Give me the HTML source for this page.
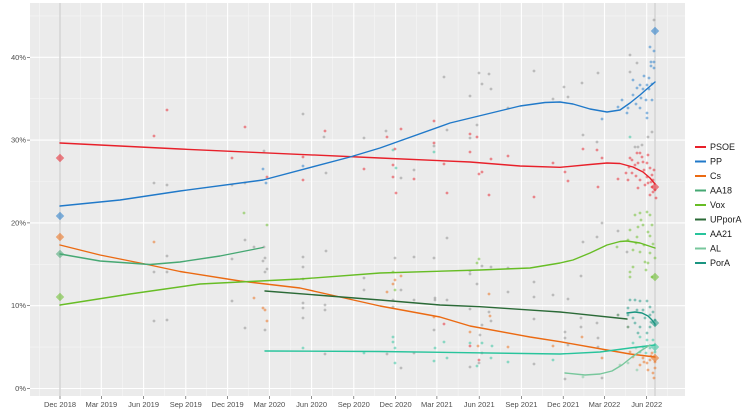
<!DOCTYPE html>
<html><head><meta charset="utf-8"><style>
html,body{margin:0;padding:0;background:#fff;}
svg{display:block;font-family:"Liberation Sans",sans-serif;}
.ax{font-size:7.5px;fill:#4d4d4d;}
.lg{font-size:9px;fill:#1a1a1a;}
.pts circle{opacity:.5}
.r{fill:#e8202a}.b{fill:#2079c9}.o{fill:#eb6a12}.g1{fill:#46a873}.v{fill:#67bd25}.u{fill:#2b6a37}.t{fill:#28c49c}.l{fill:#78c79c}.p{fill:#1a9581}.k{fill:#8c8c8c}
</style></head><body>
<svg width="750" height="417" viewBox="0 0 750 417">
<rect x="30" y="3" width="655" height="393" fill="#ebebeb"/>
<g stroke="#f6f6f6" stroke-width="0.6">
<line x1="30" x2="685" y1="347.1" y2="347.1"/><line x1="30" x2="685" y1="264.3" y2="264.3"/><line x1="30" x2="685" y1="181.5" y2="181.5"/><line x1="30" x2="685" y1="98.7" y2="98.7"/><line x1="30" x2="685" y1="15.9" y2="15.9"/>
<line y1="3" y2="396" x1="39.3" x2="39.3"/><line y1="3" y2="396" x1="80.7" x2="80.7"/><line y1="3" y2="396" x1="122.5" x2="122.5"/><line y1="3" y2="396" x1="164.7" x2="164.7"/><line y1="3" y2="396" x1="206.7" x2="206.7"/><line y1="3" y2="396" x1="248.5" x2="248.5"/><line y1="3" y2="396" x1="290.5" x2="290.5"/><line y1="3" y2="396" x1="332.7" x2="332.7"/><line y1="3" y2="396" x1="374.7" x2="374.7"/><line y1="3" y2="396" x1="416.3" x2="416.3"/><line y1="3" y2="396" x1="458.1" x2="458.1"/><line y1="3" y2="396" x1="500.3" x2="500.3"/><line y1="3" y2="396" x1="542.3" x2="542.3"/><line y1="3" y2="396" x1="583.9" x2="583.9"/><line y1="3" y2="396" x1="625.6" x2="625.6"/><line y1="3" y2="396" x1="667.6" x2="667.6"/>
</g>
<g stroke="#ffffff" stroke-width="1.1">
<line x1="30" x2="685" y1="388.5" y2="388.5"/><line x1="30" x2="685" y1="305.7" y2="305.7"/><line x1="30" x2="685" y1="222.9" y2="222.9"/><line x1="30" x2="685" y1="140.1" y2="140.1"/><line x1="30" x2="685" y1="57.3" y2="57.3"/>
<line y1="3" y2="396" x1="60" x2="60"/><line y1="3" y2="396" x1="101.3" x2="101.3"/><line y1="3" y2="396" x1="143.6" x2="143.6"/><line y1="3" y2="396" x1="185.8" x2="185.8"/><line y1="3" y2="396" x1="227.6" x2="227.6"/><line y1="3" y2="396" x1="269.4" x2="269.4"/><line y1="3" y2="396" x1="311.6" x2="311.6"/><line y1="3" y2="396" x1="353.8" x2="353.8"/><line y1="3" y2="396" x1="395.6" x2="395.6"/><line y1="3" y2="396" x1="436.9" x2="436.9"/><line y1="3" y2="396" x1="479.2" x2="479.2"/><line y1="3" y2="396" x1="521.4" x2="521.4"/><line y1="3" y2="396" x1="563.2" x2="563.2"/><line y1="3" y2="396" x1="604.5" x2="604.5"/><line y1="3" y2="396" x1="646.7" x2="646.7"/>
</g>
<g stroke="#d6d6d6" stroke-width="1.6">
<line x1="60" x2="60" y1="3" y2="396"/><line x1="655" x2="655" y1="3" y2="396"/>
</g>
<!-- axes ticks & labels -->
<g stroke="#444" stroke-width="0.6">
<line x1="27" x2="30" y1="388.5" y2="388.5"/><line x1="27" x2="30" y1="305.7" y2="305.7"/><line x1="27" x2="30" y1="222.9" y2="222.9"/><line x1="27" x2="30" y1="140.1" y2="140.1"/><line x1="27" x2="30" y1="57.3" y2="57.3"/>
<line y1="396" y2="399" x1="60" x2="60"/><line y1="396" y2="399" x1="101.3" x2="101.3"/><line y1="396" y2="399" x1="143.6" x2="143.6"/><line y1="396" y2="399" x1="185.8" x2="185.8"/><line y1="396" y2="399" x1="227.6" x2="227.6"/><line y1="396" y2="399" x1="269.4" x2="269.4"/><line y1="396" y2="399" x1="311.6" x2="311.6"/><line y1="396" y2="399" x1="353.8" x2="353.8"/><line y1="396" y2="399" x1="395.6" x2="395.6"/><line y1="396" y2="399" x1="436.9" x2="436.9"/><line y1="396" y2="399" x1="479.2" x2="479.2"/><line y1="396" y2="399" x1="521.4" x2="521.4"/><line y1="396" y2="399" x1="563.2" x2="563.2"/><line y1="396" y2="399" x1="604.5" x2="604.5"/><line y1="396" y2="399" x1="646.7" x2="646.7"/>
</g>
<g class="ax" text-anchor="end">
<text x="26" y="391">0%</text><text x="26" y="308.2">10%</text><text x="26" y="225.4">20%</text><text x="26" y="142.6">30%</text><text x="26" y="59.8">40%</text>
</g>
<g class="ax" text-anchor="middle">
<text x="60" y="407">Dec 2018</text><text x="101.3" y="407">Mar 2019</text><text x="143.6" y="407">Jun 2019</text><text x="185.8" y="407">Sep 2019</text><text x="227.6" y="407">Dec 2019</text><text x="269.4" y="407">Mar 2020</text><text x="311.6" y="407">Jun 2020</text><text x="353.8" y="407">Sep 2020</text><text x="395.6" y="407">Dec 2020</text><text x="436.9" y="407">Mar 2021</text><text x="479.2" y="407">Jun 2021</text><text x="521.4" y="407">Sep 2021</text><text x="563.2" y="407">Dec 2021</text><text x="604.5" y="407">Mar 2022</text><text x="646.7" y="407">Jun 2022</text>
</g>
<!-- points -->
<g class="pts">
<circle class="r" cx="154" cy="136" r="1.4"/><circle class="k" cx="154" cy="183" r="1.4"/><circle class="o" cx="154" cy="242" r="1.4"/><circle class="k" cx="154" cy="272" r="1.4"/><circle class="k" cx="154" cy="321" r="1.4"/>
<circle class="r" cx="167" cy="110" r="1.4"/><circle class="k" cx="167" cy="185" r="1.4"/><circle class="k" cx="167" cy="272" r="1.4"/><circle class="k" cx="167" cy="256" r="1.4"/><circle class="k" cx="167" cy="320" r="1.4"/>
<circle class="r" cx="232" cy="158" r="1.4"/><circle class="k" cx="232" cy="185" r="1.4"/><circle class="k" cx="232" cy="259" r="1.4"/><circle class="k" cx="232" cy="301" r="1.4"/>
<circle class="r" cx="245" cy="127" r="1.4"/><circle class="k" cx="245" cy="183" r="1.4"/><circle class="v" cx="244" cy="213" r="1.4"/><circle class="k" cx="245" cy="240" r="1.4"/><circle class="k" cx="245" cy="328" r="1.4"/>
<circle class="k" cx="254" cy="247" r="1.4"/><circle class="o" cx="254" cy="298" r="1.4"/>
<circle class="k" cx="264" cy="151" r="1.4"/><circle class="b" cx="263" cy="169" r="1.4"/><circle class="b" cx="266" cy="183" r="1.4"/><circle class="r" cx="267" cy="177" r="1.4"/><circle class="v" cx="267" cy="225" r="1.4"/><circle class="k" cx="264" cy="247" r="1.4"/><circle class="k" cx="265" cy="258" r="1.4"/><circle class="k" cx="263" cy="261" r="1.4"/><circle class="k" cx="267" cy="269" r="1.4"/><circle class="k" cx="265" cy="272" r="1.4"/><circle class="o" cx="263" cy="308" r="1.4"/><circle class="o" cx="265" cy="310" r="1.4"/><circle class="o" cx="267" cy="321" r="1.4"/><circle class="k" cx="265" cy="330" r="1.4"/>
<circle class="k" cx="303" cy="114" r="1.4"/><circle class="r" cx="303" cy="157" r="1.4"/><circle class="b" cx="303" cy="166" r="1.4"/><circle class="r" cx="303" cy="180" r="1.4"/><circle class="k" cx="303" cy="257" r="1.4"/><circle class="k" cx="303" cy="267" r="1.4"/><circle class="k" cx="303" cy="279" r="1.4"/><circle class="k" cx="303" cy="303" r="1.4"/><circle class="k" cx="303" cy="308" r="1.4"/><circle class="k" cx="303" cy="318" r="1.4"/><circle class="t" cx="303" cy="348" r="1.4"/>
<circle class="r" cx="325" cy="131" r="1.4"/><circle class="k" cx="324" cy="137" r="1.4"/><circle class="k" cx="326" cy="173" r="1.4"/><circle class="k" cx="326" cy="251" r="1.4"/><circle class="k" cx="325" cy="305" r="1.4"/><circle class="k" cx="325" cy="310" r="1.4"/><circle class="k" cx="325" cy="354" r="1.4"/>
<circle class="k" cx="364" cy="138" r="1.4"/><circle class="r" cx="364" cy="169" r="1.4"/><circle class="k" cx="364" cy="278" r="1.4"/><circle class="k" cx="364" cy="290" r="1.4"/><circle class="t" cx="364" cy="353" r="1.4"/>
<circle class="k" cx="386" cy="131" r="1.4"/><circle class="r" cx="387" cy="137" r="1.4"/><circle class="r" cx="401" cy="129" r="1.4"/><circle class="t" cx="393" cy="150" r="1.4"/><circle class="r" cx="395" cy="149" r="1.4"/><circle class="r" cx="393" cy="165" r="1.4"/><circle class="t" cx="396" cy="168" r="1.4"/><circle class="r" cx="393" cy="177" r="1.4"/><circle class="r" cx="396" cy="193" r="1.4"/><circle class="k" cx="401" cy="178" r="1.4"/><circle class="k" cx="414" cy="170" r="1.4"/><circle class="r" cx="414" cy="179" r="1.4"/>
<circle class="k" cx="395" cy="258" r="1.4"/><circle class="v" cx="393" cy="272" r="1.4"/><circle class="o" cx="395" cy="280" r="1.4"/><circle class="o" cx="393" cy="284" r="1.4"/><circle class="v" cx="395" cy="290" r="1.4"/><circle class="k" cx="401" cy="290" r="1.4"/><circle class="o" cx="387" cy="292" r="1.4"/><circle class="o" cx="401" cy="276" r="1.4"/><circle class="k" cx="393" cy="300" r="1.4"/><circle class="k" cx="393" cy="307" r="1.4"/><circle class="t" cx="393" cy="337" r="1.4"/><circle class="t" cx="393" cy="342" r="1.4"/><circle class="t" cx="395" cy="348" r="1.4"/><circle class="k" cx="387" cy="354" r="1.4"/><circle class="t" cx="395" cy="363" r="1.4"/><circle class="k" cx="401" cy="368" r="1.4"/><circle class="k" cx="414" cy="257" r="1.4"/><circle class="k" cx="414" cy="300" r="1.4"/><circle class="k" cx="414" cy="353" r="1.4"/>
<circle class="r" cx="434" cy="121" r="1.4"/><circle class="r" cx="434" cy="143" r="1.4"/><circle class="k" cx="434" cy="146" r="1.4"/><circle class="t" cx="434" cy="152" r="1.4"/><circle class="k" cx="444" cy="77" r="1.4"/><circle class="k" cx="447" cy="130" r="1.4"/><circle class="r" cx="444" cy="164" r="1.4"/><circle class="r" cx="447" cy="193" r="1.4"/><circle class="k" cx="434" cy="258" r="1.4"/><circle class="k" cx="435" cy="298" r="1.4"/><circle class="k" cx="435" cy="300" r="1.4"/><circle class="o" cx="434" cy="317" r="1.4"/><circle class="k" cx="434" cy="330" r="1.4"/><circle class="t" cx="435" cy="348" r="1.4"/><circle class="t" cx="434" cy="361" r="1.4"/><circle class="k" cx="447" cy="300" r="1.4"/><circle class="k" cx="447" cy="238" r="1.4"/><circle class="r" cx="444" cy="324" r="1.4"/><circle class="t" cx="444" cy="342" r="1.4"/><circle class="t" cx="447" cy="358" r="1.4"/>
<circle class="k" cx="470" cy="96" r="1.4"/><circle class="k" cx="479" cy="73" r="1.4"/><circle class="k" cx="482" cy="84" r="1.4"/><circle class="k" cx="489" cy="74" r="1.4"/><circle class="k" cx="491" cy="89" r="1.4"/><circle class="k" cx="477" cy="125" r="1.4"/><circle class="r" cx="470" cy="134" r="1.4"/><circle class="k" cx="470" cy="138" r="1.4"/><circle class="r" cx="477" cy="137" r="1.4"/><circle class="r" cx="470" cy="152" r="1.4"/><circle class="r" cx="491" cy="159" r="1.4"/><circle class="r" cx="482" cy="172" r="1.4"/><circle class="r" cx="479" cy="174" r="1.4"/><circle class="r" cx="489" cy="195" r="1.4"/>
<circle class="k" cx="470" cy="271" r="1.4"/><circle class="k" cx="470" cy="274" r="1.4"/><circle class="v" cx="479" cy="259" r="1.4"/><circle class="v" cx="477" cy="263" r="1.4"/><circle class="k" cx="482" cy="266" r="1.4"/><circle class="k" cx="491" cy="267" r="1.4"/><circle class="k" cx="477" cy="284" r="1.4"/><circle class="o" cx="489" cy="294" r="1.4"/><circle class="k" cx="470" cy="309" r="1.4"/><circle class="k" cx="489" cy="312" r="1.4"/><circle class="o" cx="490" cy="316" r="1.4"/><circle class="k" cx="491" cy="321" r="1.4"/><circle class="k" cx="482" cy="325" r="1.4"/><circle class="o" cx="470" cy="332" r="1.4"/><circle class="k" cx="480" cy="335" r="1.4"/><circle class="t" cx="470" cy="343" r="1.4"/><circle class="r" cx="470" cy="346" r="1.4"/><circle class="o" cx="478" cy="346" r="1.4"/><circle class="t" cx="482" cy="343" r="1.4"/><circle class="t" cx="492" cy="346" r="1.4"/><circle class="k" cx="482" cy="353" r="1.4"/><circle class="t" cx="491" cy="358" r="1.4"/><circle class="r" cx="479" cy="360" r="1.4"/><circle class="k" cx="479" cy="363" r="1.4"/><circle class="k" cx="470" cy="367" r="1.4"/><circle class="t" cx="477" cy="366" r="1.4"/>
<circle class="k" cx="508" cy="108" r="1.4"/><circle class="r" cx="508" cy="156" r="1.4"/><circle class="k" cx="508" cy="292" r="1.4"/><circle class="k" cx="508" cy="268" r="1.4"/><circle class="o" cx="508" cy="347" r="1.4"/><circle class="t" cx="508" cy="362" r="1.4"/>
<circle class="k" cx="534" cy="71" r="1.4"/><circle class="r" cx="534" cy="197" r="1.4"/><circle class="k" cx="534" cy="282" r="1.4"/><circle class="k" cx="534" cy="297" r="1.4"/><circle class="k" cx="534" cy="319" r="1.4"/><circle class="k" cx="534" cy="364" r="1.4"/>
<circle class="k" cx="553" cy="99" r="1.4"/><circle class="r" cx="553" cy="163" r="1.4"/><circle class="k" cx="553" cy="295" r="1.4"/><circle class="o" cx="553" cy="346" r="1.4"/><circle class="t" cx="553" cy="360" r="1.4"/>
<circle class="k" cx="564" cy="87" r="1.4"/><circle class="k" cx="568" cy="97" r="1.4"/><circle class="k" cx="582" cy="83" r="1.4"/><circle class="k" cx="598" cy="73" r="1.4"/><circle class="b" cx="602" cy="119" r="1.4"/><circle class="k" cx="583" cy="135" r="1.4"/><circle class="k" cx="597" cy="142" r="1.4"/><circle class="r" cx="583" cy="149" r="1.4"/><circle class="r" cx="597" cy="150" r="1.4"/><circle class="r" cx="602" cy="158" r="1.4"/><circle class="r" cx="565" cy="172" r="1.4"/><circle class="r" cx="568" cy="181" r="1.4"/><circle class="r" cx="598" cy="187" r="1.4"/><circle class="r" cx="618" cy="179" r="1.4"/><circle class="b" cx="618" cy="107" r="1.4"/>
<circle class="k" cx="602" cy="223" r="1.4"/><circle class="k" cx="618" cy="231" r="1.4"/><circle class="k" cx="597" cy="237" r="1.4"/><circle class="k" cx="583" cy="242" r="1.4"/><circle class="v" cx="617" cy="247" r="1.4"/><circle class="k" cx="627" cy="252" r="1.4"/><circle class="k" cx="581" cy="276" r="1.4"/><circle class="k" cx="568" cy="299" r="1.4"/><circle class="k" cx="581" cy="318" r="1.4"/><circle class="k" cx="597" cy="323" r="1.4"/><circle class="k" cx="581" cy="327" r="1.4"/><circle class="o" cx="582" cy="337" r="1.4"/><circle class="k" cx="565" cy="332" r="1.4"/><circle class="k" cx="565" cy="338" r="1.4"/><circle class="k" cx="598" cy="338" r="1.4"/><circle class="k" cx="568" cy="345" r="1.4"/><circle class="k" cx="598" cy="347" r="1.4"/><circle class="k" cx="565" cy="379" r="1.4"/><circle class="l" cx="583" cy="377" r="1.4"/><circle class="k" cx="602" cy="378" r="1.4"/><circle class="o" cx="602" cy="358" r="1.4"/><circle class="l" cx="620" cy="365" r="1.4"/><circle class="u" cx="618" cy="315" r="1.4"/>
<!-- right cluster PP -->
<circle class="k" cx="630" cy="55" r="1.4"/><circle class="k" cx="637" cy="63" r="1.4"/><circle class="k" cx="630" cy="72" r="1.4"/><circle class="b" cx="628" cy="108" r="1.4"/><circle class="b" cx="627" cy="113" r="1.4"/><circle class="b" cx="633" cy="80" r="1.4"/><circle class="b" cx="637" cy="88" r="1.4"/><circle class="b" cx="640" cy="85" r="1.4"/><circle class="b" cx="640" cy="108" r="1.4"/><circle class="b" cx="643" cy="89" r="1.4"/><circle class="b" cx="647" cy="85" r="1.4"/><circle class="b" cx="650" cy="47" r="1.4"/><circle class="k" cx="654" cy="20" r="1.4"/><circle class="b" cx="654" cy="51" r="1.4"/><circle class="b" cx="651" cy="62" r="1.4"/><circle class="b" cx="654" cy="62" r="1.4"/><circle class="b" cx="651" cy="66" r="1.4"/><circle class="b" cx="654" cy="68" r="1.4"/><circle class="b" cx="649" cy="78" r="1.4"/><circle class="b" cx="649" cy="89" r="1.4"/><circle class="b" cx="646" cy="100" r="1.4"/><circle class="b" cx="652" cy="100" r="1.4"/><circle class="b" cx="647" cy="113" r="1.4"/><circle class="b" cx="647" cy="118" r="1.4"/><circle class="k" cx="635" cy="147" r="1.4"/><circle class="k" cx="638" cy="147" r="1.4"/><circle class="k" cx="642" cy="145" r="1.4"/><circle class="k" cx="648" cy="137" r="1.4"/><circle class="k" cx="652" cy="132" r="1.4"/><circle class="t" cx="630" cy="137" r="1.4"/><circle class="b" cx="622" cy="100" r="1.4"/><circle class="b" cx="633" cy="95" r="1.4"/><circle class="b" cx="644" cy="76" r="1.4"/><circle class="b" cx="641" cy="98" r="1.4"/><circle class="b" cx="636" cy="104" r="1.4"/><circle class="b" cx="652" cy="84" r="1.4"/>
<!-- right cluster PSOE -->
<circle class="r" cx="632" cy="160" r="1.4"/><circle class="r" cx="637" cy="153" r="1.4"/><circle class="r" cx="640" cy="153" r="1.4"/><circle class="r" cx="642" cy="157" r="1.4"/><circle class="r" cx="632" cy="173" r="1.4"/><circle class="r" cx="638" cy="163" r="1.4"/><circle class="r" cx="647" cy="163" r="1.4"/><circle class="r" cx="650" cy="168" r="1.4"/><circle class="r" cx="640" cy="180" r="1.4"/><circle class="r" cx="647" cy="177" r="1.4"/><circle class="r" cx="652" cy="175" r="1.4"/><circle class="r" cx="652" cy="187" r="1.4"/><circle class="r" cx="655" cy="190" r="1.4"/><circle class="r" cx="650" cy="195" r="1.4"/><circle class="r" cx="638" cy="188" r="1.4"/><circle class="r" cx="626" cy="173" r="1.4"/><circle class="r" cx="628" cy="180" r="1.4"/><circle class="r" cx="635" cy="165" r="1.4"/><circle class="r" cx="644" cy="170" r="1.4"/><circle class="r" cx="630" cy="158" r="1.4"/><circle class="r" cx="648" cy="183" r="1.4"/><circle class="r" cx="653" cy="180" r="1.4"/><circle class="r" cx="656" cy="198" r="1.4"/><circle class="r" cx="654" cy="170" r="1.4"/><circle class="r" cx="645" cy="185" r="1.4"/><circle class="r" cx="636" cy="176" r="1.4"/><circle class="r" cx="629" cy="167" r="1.4"/><circle class="r" cx="648" cy="155" r="1.4"/><circle class="r" cx="643" cy="162" r="1.4"/><circle class="r" cx="653" cy="192" r="1.4"/><circle class="r" cx="651" cy="182" r="1.4"/>
<!-- right cluster Vox -->
<circle class="v" cx="635" cy="215" r="1.4"/><circle class="v" cx="640" cy="213" r="1.4"/><circle class="v" cx="647" cy="212" r="1.4"/><circle class="v" cx="650" cy="215" r="1.4"/><circle class="v" cx="638" cy="227" r="1.4"/><circle class="v" cx="643" cy="225" r="1.4"/><circle class="v" cx="630" cy="230" r="1.4"/><circle class="v" cx="637" cy="237" r="1.4"/><circle class="v" cx="648" cy="232" r="1.4"/><circle class="v" cx="650" cy="236" r="1.4"/><circle class="v" cx="633" cy="250" r="1.4"/><circle class="v" cx="640" cy="252" r="1.4"/><circle class="v" cx="650" cy="253" r="1.4"/><circle class="v" cx="645" cy="262" r="1.4"/><circle class="v" cx="648" cy="263" r="1.4"/><circle class="v" cx="633" cy="267" r="1.4"/><circle class="v" cx="630" cy="272" r="1.4"/><circle class="v" cx="630" cy="277" r="1.4"/><circle class="v" cx="652" cy="277" r="1.4"/><circle class="v" cx="644" cy="245" r="1.4"/><circle class="v" cx="653" cy="244" r="1.4"/><circle class="v" cx="655" cy="258" r="1.4"/><circle class="v" cx="641" cy="220" r="1.4"/><circle class="v" cx="636" cy="243" r="1.4"/><circle class="v" cx="652" cy="225" r="1.4"/><circle class="v" cx="628" cy="240" r="1.4"/><circle class="v" cx="646" cy="270" r="1.4"/>
<!-- right cluster PorA / UP -->
<circle class="p" cx="630" cy="300" r="1.4"/><circle class="p" cx="635" cy="300" r="1.4"/><circle class="p" cx="640" cy="301" r="1.4"/><circle class="p" cx="647" cy="301" r="1.4"/><circle class="p" cx="650" cy="307" r="1.4"/><circle class="p" cx="628" cy="308" r="1.4"/><circle class="p" cx="637" cy="310" r="1.4"/><circle class="p" cx="643" cy="310" r="1.4"/><circle class="p" cx="628" cy="315" r="1.4"/><circle class="p" cx="650" cy="315" r="1.4"/><circle class="p" cx="655" cy="325" r="1.4"/><circle class="p" cx="635" cy="323" r="1.4"/><circle class="p" cx="640" cy="327" r="1.4"/><circle class="p" cx="655" cy="320" r="1.4"/><circle class="p" cx="650" cy="327" r="1.4"/><circle class="p" cx="647" cy="333" r="1.4"/><circle class="p" cx="638" cy="333" r="1.4"/><circle class="u" cx="628" cy="327" r="1.4"/><circle class="p" cx="653" cy="312" r="1.4"/><circle class="p" cx="645" cy="318" r="1.4"/><circle class="p" cx="633" cy="318" r="1.4"/><circle class="p" cx="651" cy="322" r="1.4"/>
<!-- right cluster AA21 / Cs / AL -->
<circle class="t" cx="640" cy="337" r="1.4"/><circle class="t" cx="647" cy="340" r="1.4"/><circle class="t" cx="653" cy="340" r="1.4"/><circle class="t" cx="633" cy="343" r="1.4"/><circle class="t" cx="643" cy="347" r="1.4"/><circle class="t" cx="650" cy="348" r="1.4"/><circle class="o" cx="630" cy="352" r="1.4"/><circle class="t" cx="640" cy="352" r="1.4"/><circle class="o" cx="652" cy="353" r="1.4"/><circle class="o" cx="633" cy="357" r="1.4"/><circle class="o" cx="643" cy="358" r="1.4"/><circle class="o" cx="650" cy="360" r="1.4"/><circle class="o" cx="655" cy="362" r="1.4"/><circle class="o" cx="640" cy="365" r="1.4"/><circle class="o" cx="647" cy="363" r="1.4"/><circle class="o" cx="655" cy="368" r="1.4"/><circle class="o" cx="653" cy="373" r="1.4"/><circle class="l" cx="637" cy="370" r="1.4"/><circle class="l" cx="628" cy="363" r="1.4"/><circle class="t" cx="646" cy="353" r="1.4"/><circle class="l" cx="636" cy="348" r="1.4"/><circle class="o" cx="651" cy="356" r="1.4"/><circle class="t" cx="655" cy="352" r="1.4"/><circle class="o" cx="648" cy="370" r="1.4"/><circle class="o" cx="654" cy="378" r="1.4"/><circle class="o" cx="644" cy="362" r="1.4"/>
</g>
<!-- election diamonds -->
<g opacity="0.55">
<rect class="r" x="57" y="155" width="6" height="6" transform="rotate(45 60 158)"/>
<rect class="b" x="57" y="213" width="6" height="6" transform="rotate(45 60 216)"/>
<rect class="o" x="57" y="234" width="6" height="6" transform="rotate(45 60 237)"/>
<rect class="g1" x="57" y="251" width="6" height="6" transform="rotate(45 60 254)"/>
<rect class="v" x="57" y="294" width="6" height="6" transform="rotate(45 60 297)"/>
<rect class="b" x="652" y="28" width="6" height="6" transform="rotate(45 655 31)"/>
<rect class="r" x="652" y="184" width="6" height="6" transform="rotate(45 655 187)"/>
<rect class="v" x="652" y="274" width="6" height="6" transform="rotate(45 655 277)"/>
<rect class="p" x="652" y="320" width="6" height="6" transform="rotate(45 655 323)"/>
<rect class="t" x="652" y="344" width="6" height="6" transform="rotate(45 655 347)"/>
<rect class="o" x="652" y="355" width="6" height="6" transform="rotate(45 655 358)"/>
</g>
<!-- trend lines -->
<g fill="none" stroke-width="1.4" stroke-linejoin="round" stroke-linecap="round">
<polyline stroke="#e8202a" points="60,143 180,149 380,158 470,162 520,166 560,167.3 590,164.5 607,163 620,163.5 633,167 643,172 650,178 655,184"/>
<polyline stroke="#2079c9" points="60,206 120,200 180,191 263,180 350,157 380,148 450,123 520,106 545,102.5 560,102 573,104 590,109 607,112 620,110 630,103 640,95 648,88 655,82"/>
<polyline stroke="#eb6a12" points="60,245 100,255 145,264 180,271.5 240,281 300,288 340,297 380,306 440,317 470,326 530,337 560,341.7 607,350 630,354 655,357"/>
<polyline stroke="#46a873" points="60,254 100,261 150,264.5 180,262 220,256 263,247.5"/>
<polyline stroke="#67bd25" points="60,305 130,294 200,284 300,279 380,273 480,270 530,268 560,263 573,260 590,253 607,245 620,241.5 627,241 640,243 655,248"/>
<polyline stroke="#2b6a37" points="265,291 380,300 440,305 480,306.7 540,310.7 560,312 627,319"/>
<polyline stroke="#28c49c" points="265,351 380,351.5 560,354 600,352 630,348 655,345"/>
<polyline stroke="#78c79c" points="565,373 585,375 600,374 612,371 622,365 632,357 642,350 650,345"/>
<polyline stroke="#1a9581" points="627,313 635,312 642,313 648,316 652,320 655,324"/>
</g>
<!-- legend -->
<g stroke-width="2">
<line x1="695" x2="706" y1="147" y2="147" stroke="#e8202a"/>
<line x1="695" x2="706" y1="161.5" y2="161.5" stroke="#2079c9"/>
<line x1="695" x2="706" y1="176" y2="176" stroke="#eb6a12"/>
<line x1="695" x2="706" y1="190.5" y2="190.5" stroke="#46a873"/>
<line x1="695" x2="706" y1="205" y2="205" stroke="#67bd25"/>
<line x1="695" x2="706" y1="219.5" y2="219.5" stroke="#2b6a37"/>
<line x1="695" x2="706" y1="234" y2="234" stroke="#28c49c"/>
<line x1="695" x2="706" y1="248.5" y2="248.5" stroke="#78c79c"/>
<line x1="695" x2="706" y1="263" y2="263" stroke="#1a9581"/>
</g>
<g class="lg">
<text x="710" y="150.2">PSOE</text>
<text x="710" y="164.7">PP</text>
<text x="710" y="179.2">Cs</text>
<text x="710" y="193.7">AA18</text>
<text x="710" y="208.2">Vox</text>
<text x="710" y="222.7">UPporA</text>
<text x="710" y="237.2">AA21</text>
<text x="710" y="251.7">AL</text>
<text x="710" y="266.2">PorA</text>
</g>
</svg>
</body></html>
